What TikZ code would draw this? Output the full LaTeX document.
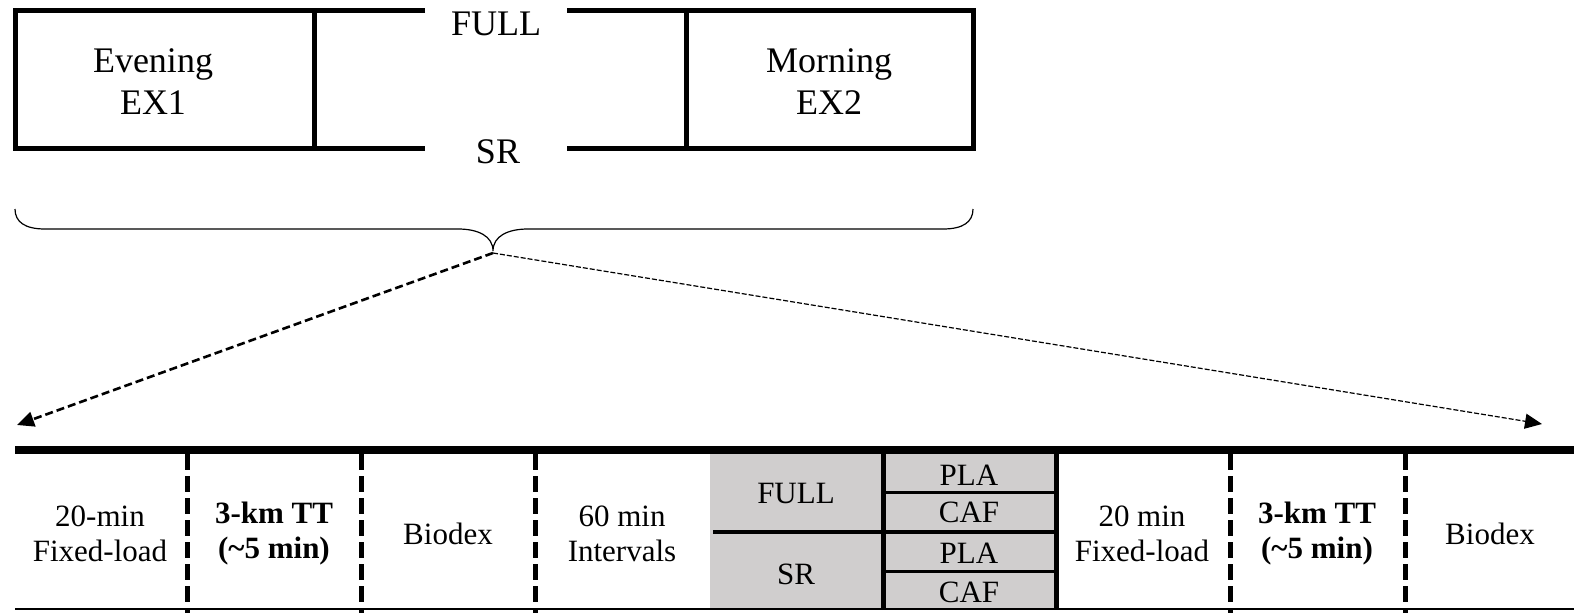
\documentclass[tikz,border=0pt]{standalone}
\usepackage{fontspec}
\setmainfont{Liberation Serif}
\usetikzlibrary{arrows.meta}
\definecolor{cellgray}{RGB}{208,206,206}

\begin{document}
\begin{tikzpicture}[x=1pt,y=-1pt,
  frame/.style={line width=5pt, line join=miter},
  bigtxt/.style={font=\fontsize{36}{42}\selectfont, align=center, inner sep=0pt},
  txt/.style={font=\fontsize{31}{35}\selectfont, align=center, inner sep=0pt},
  boldtxt/.style={txt, font=\fontsize{31}{35}\selectfont\bfseries},
  stagesep/.style={line width=5pt, dash pattern=on 16pt off 6pt},
  bracepath/.style={line width=1.2pt},
  zoomarrow/.style={-{Triangle[length=17pt,width=15pt]}},
]
\useasboundingbox (0,0) rectangle (1574,613);

% ---- upper timeline: evening session, night, morning session ----
\draw[frame] (425,10) -- (15,10) -- (15,148) -- (425,148);
\draw[frame] (314,10) -- (314,148);
\draw[frame] (567,10) -- (973,10) -- (973,148) -- (567,148);
\draw[frame] (686,10) -- (686,148);

\node[bigtxt] (ex1) at (153,82) {Evening\\EX1};
\node[bigtxt] (ex2) at (829,82) {Morning\\EX2};
\node[bigtxt, anchor=base] (fullTop) at (496,35) {FULL};
\node[bigtxt, anchor=base] (srTop) at (498,163) {SR};

% ---- brace under the sessions ----
\draw[bracepath] (15,209) .. controls (15,222) and (25,229) .. (45,229)
  -- (458,229) .. controls (478,229) and (493,236) .. (493,251)
  .. controls (493,236) and (508,229) .. (528,229)
  -- (943,229) .. controls (963,229) and (973,222) .. (973,209);

\coordinate (tip) at (493,253);
\coordinate (leftEnd) at (17,425);
\coordinate (rightEnd) at (1542,424);
\draw[zoomarrow, line width=2.6pt, dash pattern=on 8pt off 4pt] (tip) -- (leftEnd);
\draw[zoomarrow, line width=1.2pt, dash pattern=on 5pt off 2pt] (tip) -- (rightEnd);

% ---- detailed session protocol ----
\fill[cellgray] (710,454) rectangle (1056,609);
\draw[line width=8pt] (15,450) -- (1574,450);
\draw[line width=2pt] (15,609) -- (1574,609);

\foreach \x in {187,361,535,1230,1405}
  \draw[stagesep] (\x,454) -- (\x,613);

\draw[line width=5pt] (883,454) -- (883,609);
\draw[line width=5pt] (1056,454) -- (1056,609);
\draw[line width=4.5pt] (713,532) -- (1056,532);
\draw[line width=3pt] (883,492) -- (1056,492);
\draw[line width=3pt] (883,571) -- (1056,571);

\node[txt] (fl1) at (100,534) {20-min\\Fixed-load};
\node[boldtxt] (tt1) at (274,534) {3-km TT\\(\textasciitilde5 min)};
\node[txt] (bx1) at (448,534) {Biodex};
\node[txt] (int) at (622,534) {60 min\\Intervals};
\node[txt] (full) at (796,493) {FULL};
\node[txt] (sr) at (796,574) {SR};
\node[txt] (pla1) at (969,475) {PLA};
\node[txt] (caf1) at (969,512) {CAF};
\node[txt] (pla2) at (969,553) {PLA};
\node[txt] (caf2) at (969,592) {CAF};
\node[txt] (fl2) at (1142,534) {20 min\\Fixed-load};
\node[boldtxt] (tt2) at (1317,534) {3-km TT\\(\textasciitilde5 min)};
\node[txt] (bx2) at (1490,534) {Biodex};
\end{tikzpicture}
\end{document}
